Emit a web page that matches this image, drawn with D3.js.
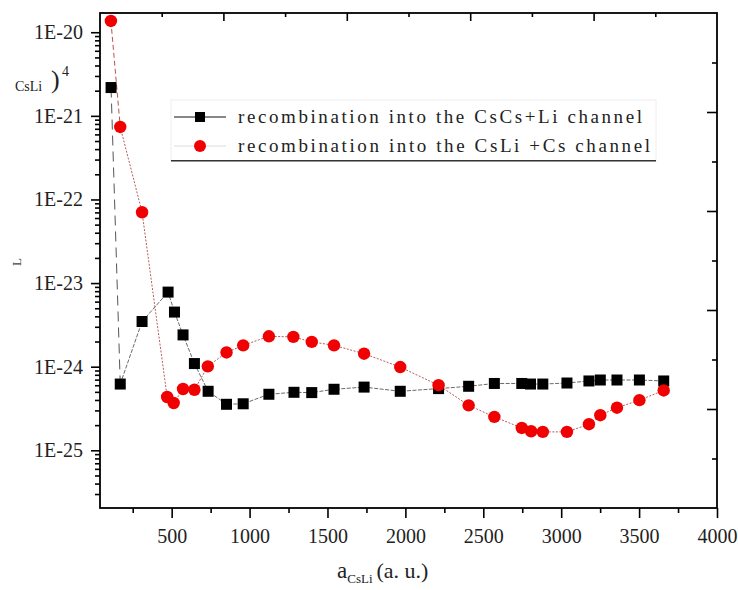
<!DOCTYPE html>
<html><head><meta charset="utf-8">
<script src="https://cdn.jsdelivr.net/npm/d3@7/dist/d3.min.js"></script>
<style>body{margin:0;background:#fff}svg{display:block}</style>
</head><body>
<svg id="c" width="738" height="590"></svg>
<script>
// ---- data ----
const sqX = [111, 170, 310, 477, 518, 573, 646, 734, 852, 959, 1124, 1285, 1399, 1542, 1735, 1967, 2213, 2406, 2571, 2747, 2803, 2882, 3037, 3178, 3251, 3358, 3502, 3658];
const sqY = [2.18e-21, 6.2e-25, 3.47e-24, 7.8e-24, 4.5e-24, 2.4e-24, 1.09e-24, 5.08e-25, 3.55e-25, 3.6e-25, 4.68e-25, 4.94e-25, 4.9e-25, 5.37e-25, 5.7e-25, 5.08e-25, 5.47e-25, 5.83e-25, 6.3e-25, 6.3e-25, 6.2e-25, 6.2e-25, 6.38e-25, 6.75e-25, 6.93e-25, 6.93e-25, 6.93e-25, 6.75e-25];
const ciX = [110, 170, 310, 471, 513, 573, 646, 732, 852, 959, 1124, 1281, 1399, 1542, 1735, 1967, 2213, 2406, 2571, 2747, 2807, 2882, 3037, 3178, 3251, 3358, 3502, 3658];
const ciY = [1.365e-20, 7.36e-22, 7.03e-23, 4.34e-25, 3.68e-25, 5.41e-25, 5.3e-25, 1.01e-24, 1.48e-24, 1.8e-24, 2.31e-24, 2.27e-24, 1.98e-24, 1.8e-24, 1.43e-24, 9.9e-25, 6.0e-25, 3.45e-25, 2.51e-25, 1.85e-25, 1.69e-25, 1.66e-25, 1.66e-25, 2.05e-25, 2.63e-25, 3.23e-25, 3.98e-25, 5.2e-25];
const xTicks = [500, 1000, 1500, 2000, 2500, 3000, 3500, 4000];
const xMinor = [250, 750, 1250, 1750, 2250, 2750, 3250, 3750];
const yTicks = [1e-20, 1e-21, 1e-22, 1e-23, 1e-24, 1e-25];
const yTickLabels = ["1E-20", "1E-21", "1E-22", "1E-23", "1E-24", "1E-25"];
const legendLabels = ["recombination into the CsCs+Li channel", "recombination into the CsLi +Cs channel"];

// ---- layout ----
const svg = d3.select("#c");
const L = 100, R = 717, T = 13, B = 508;
const x = d3.scaleLinear().domain([40, 4000]).range([L, R]);
const y = d3.scaleLog().domain([Math.pow(10, -25.69), Math.pow(10, -19.77)]).range([B, T]);
const frac = d3.scaleLinear().domain([0, 10]).range([L, R]);
const fracY = d3.scaleLinear().domain([0, 10]).range([B, T]);
const serif = "'Liberation Serif', 'DejaVu Serif', serif";

// minor log ticks
const yMinor = [];
for (let e = -26; e <= -20; e++) for (let m = 2; m <= 9; m++) {
  const v = m * Math.pow(10, e);
  if (v >= y.domain()[0] && v <= y.domain()[1]) yMinor.push(v);
}

// lines
const pts = (xs, ys) => xs.map((v, i) => [x(v), y(ys[i])]);
const sq = pts(sqX, sqY), ci = pts(ciX, ciY);
const line = d3.line();
const g = svg.append("g");
// black series
g.append("path").attr("d", line(sq.slice(0, 2))).attr("fill", "none")
  .attr("stroke", "#555").attr("stroke-width", 1).attr("stroke-dasharray", "10,6");
g.append("path").attr("d", line(sq.slice(1))).attr("fill", "none")
  .attr("stroke", "#444").attr("stroke-width", 0.8).attr("stroke-dasharray", "4,1.5");
// red series
g.append("path").attr("d", line(ci.slice(0, 2))).attr("fill", "none")
  .attr("stroke", "#c05050").attr("stroke-width", 1).attr("stroke-dasharray", "5,3");
g.append("path").attr("d", line(ci.slice(1))).attr("fill", "none")
  .attr("stroke", "#b04848").attr("stroke-width", 0.9).attr("stroke-dasharray", "2,1.5");

g.selectAll("rect.sq").data(sq).join("rect").attr("class", "sq")
  .attr("x", d => d[0] - 5.5).attr("y", d => d[1] - 5.5).attr("width", 11).attr("height", 11).attr("fill", "#000");
g.selectAll("circle.ci").data(ci).join("circle").attr("class", "ci")
  .attr("cx", d => d[0]).attr("cy", d => d[1]).attr("r", 6.2).attr("fill", "#f00000");

// axes
const styleAxis = (sel) => {
  sel.select(".domain").remove();
  sel.selectAll("line").attr("stroke", "#000").attr("stroke-width", 1.6);
  sel.selectAll("text").attr("font-family", serif).attr("font-size", 20).attr("fill", "#222");
};
svg.append("g").attr("transform", `translate(0,${B})`)
  .call(d3.axisBottom(x).tickValues(xTicks).tickSize(10).tickPadding(11).tickFormat(d3.format("d"))).call(styleAxis);
svg.append("g").attr("transform", `translate(0,${B})`)
  .call(d3.axisBottom(x).tickValues(xMinor).tickSize(5).tickFormat("")).call(styleAxis);
svg.append("g").attr("transform", `translate(${L},0)`)
  .call(d3.axisLeft(y).tickValues(yTicks).tickSize(9).tickPadding(8).tickFormat((d, i) => yTickLabels[i])).call(styleAxis);
svg.append("g").attr("transform", `translate(${L},0)`)
  .call(d3.axisLeft(y).tickValues(yMinor).tickSize(5).tickFormat("")).call(styleAxis);
// top & right (unlabelled, inward)
svg.append("g").attr("transform", `translate(0,${T})`)
  .call(d3.axisBottom(frac).tickValues([2, 4, 6, 8]).tickSize(8).tickFormat("")).call(styleAxis);
svg.append("g").attr("transform", `translate(0,${T})`)
  .call(d3.axisBottom(frac).tickValues([1, 3, 5, 7, 9]).tickSize(4).tickFormat("")).call(styleAxis);
svg.append("g").attr("transform", `translate(${R},0)`)
  .call(d3.axisLeft(fracY).tickValues([2, 4, 6, 8]).tickSize(10).tickFormat("")).call(styleAxis);
svg.append("g").attr("transform", `translate(${R},0)`)
  .call(d3.axisLeft(fracY).tickValues([1, 3, 5, 7, 9]).tickSize(5).tickFormat("")).call(styleAxis);

// frame
svg.append("rect").attr("x", L).attr("y", T).attr("width", R - L).attr("height", B - T)
  .attr("fill", "none").attr("stroke", "#000").attr("stroke-width", 1.8);

// legend
const lg = svg.append("g");
lg.append("rect").attr("x", 171).attr("y", 100).attr("width", 485).attr("height", 61)
  .attr("fill", "#fff").attr("stroke", "#eee").attr("stroke-width", 1);
lg.append("line").attr("x1", 171).attr("x2", 656).attr("y1", 160.7).attr("y2", 160.7)
  .attr("stroke", "#333").attr("stroke-width", 1.5);
const rows = [117, 146];
lg.append("line").attr("x1", 174).attr("x2", 226).attr("y1", rows[0]).attr("y2", rows[0]).attr("stroke", "#111").attr("stroke-width", 1);
lg.append("rect").attr("x", 200 - 5).attr("y", rows[0] - 5).attr("width", 10).attr("height", 10).attr("fill", "#000");
lg.append("line").attr("x1", 174).attr("x2", 226).attr("y1", rows[1]).attr("y2", rows[1]).attr("stroke", "#ddd").attr("stroke-width", 1);
lg.append("circle").attr("cx", 200).attr("cy", rows[1]).attr("r", 6).attr("fill", "#f00000");
const ends = [642, 650];
legendLabels.forEach((t, i) => {
  lg.append("text").attr("x", 238).attr("y", rows[i] + 6).text(t)
    .attr("font-family", serif).attr("font-size", 19).attr("fill", "#222")
    .attr("textLength", ends[i] - 238).attr("lengthAdjust", "spacing");
});

// x title
const xt = svg.append("text").attr("x", 337).attr("y", 578).attr("font-family", serif).attr("fill", "#222");
xt.append("tspan").attr("font-size", 23).text("a");
xt.append("tspan").attr("font-size", 13).attr("dy", 5).text("CsLi");
xt.append("tspan").attr("font-size", 22).attr("dy", -5).attr("dx", 4).text("(a. u.)");

// partial y title remnants
svg.append("text").attr("x", 15).attr("y", 91).attr("font-family", serif).attr("font-size", 14).attr("fill", "#222").text("CsLi");
svg.append("text").attr("x", 51).attr("y", 88).attr("font-family", serif).attr("font-size", 26).attr("fill", "#222").text(")");
svg.append("text").attr("x", 62).attr("y", 76).attr("font-family", serif).attr("font-size", 14).attr("fill", "#222").text("4");
svg.append("text").attr("transform", "translate(21,262) rotate(-90)").attr("text-anchor", "middle")
  .attr("font-family", serif).attr("font-size", 13).attr("fill", "#444").text("L");
</script>
</body></html>
